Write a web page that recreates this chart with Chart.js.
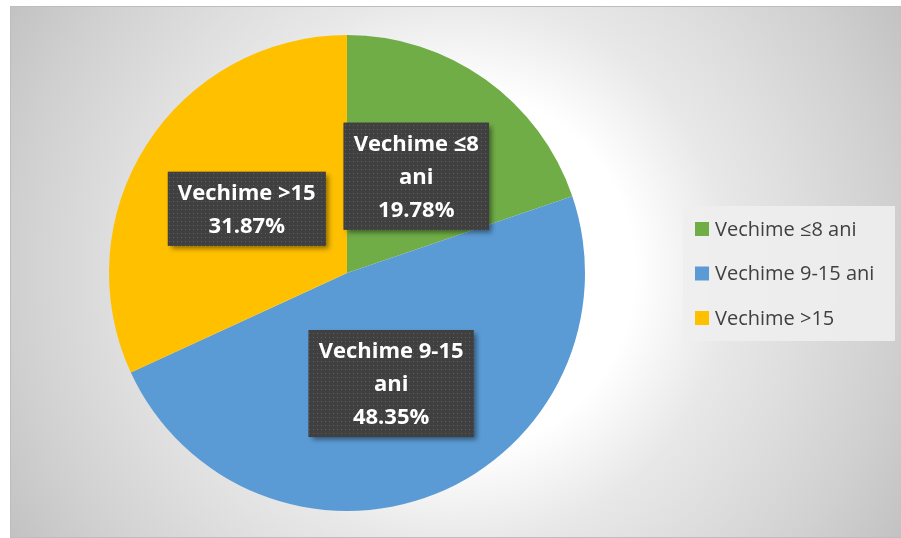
<!DOCTYPE html>
<html>
<head>
<meta charset="utf-8">
<script src="https://cdn.jsdelivr.net/npm/chart.js@4/dist/chart.umd.min.js"></script>
<style>
  body { margin: 0; background: #fff; }
  canvas { display: block; }
</style>
</head>
<body>
<canvas id="pieChart" width="901" height="538"></canvas>
<script>
// categorii si valori (%)
const categories = ['Vechime ≤8 ani', 'Vechime 9-15 ani', 'Vechime >15'];
const values = [19.78, 48.35, 31.87];
const sliceColors = ['#70AD47', '#5B9BD5', '#FFC000'];
// textul etichetelor de pe felii (numele categoriei rupt pe randuri)
const labelLines = [['Vechime ≤8', 'ani'], ['Vechime 9-15', 'ani'], ['Vechime >15']];

const canvas = document.getElementById('pieChart');

// pattern cu puncte pentru fundalul etichetelor
function dotPattern(ctx) {
    const p = document.createElement('canvas');
    p.width = 4;
    p.height = 4;
    const pc = p.getContext('2d');
    pc.fillStyle = '#404040';
    pc.fillRect(0, 0, 4, 4);
    pc.fillStyle = '#5e5e5e';
    pc.fillRect(1, 1, 1, 1);
    return ctx.createPattern(p, 'repeat');
}

// fundalul cu gradient radial si chenarul
const backgroundPlugin = {
    id: 'frameBackground',
    beforeDraw(chart) {
        const ctx = chart.ctx;
        ctx.save();
        ctx.fillStyle = '#ffffff';
        ctx.fillRect(0, 0, chart.width, chart.height);
        const g = ctx.createRadialGradient(455, 271, 0, 455, 271, 520);
        g.addColorStop(0, '#ffffff');
        g.addColorStop(180 / 520, '#ffffff');
        g.addColorStop(273 / 520, '#e8e8e8');
        g.addColorStop(345 / 520, '#dedede');
        g.addColorStop(440 / 520, '#d0d0d0');
        g.addColorStop(1, '#c2c2c2');
        ctx.fillStyle = g;
        ctx.fillRect(10, 6, 891, 531);
        ctx.strokeStyle = '#bdbdbd';
        ctx.lineWidth = 1;
        ctx.strokeRect(10.5, 6.5, 891, 531);
        ctx.restore();
    }
};

// etichetele de date (casete inchise cu text alb)
const dataLabelPlugin = {
    id: 'sliceLabels',
    afterDatasetsDraw(chart) {
        const ctx = chart.ctx;
        const meta = chart.getDatasetMeta(0);
        const data = chart.data.datasets[0].data;
        const total = data.reduce((a, b) => a + b, 0);
        const pattern = dotPattern(ctx);
        ctx.save();
        ctx.font = 'bold 22px "Open Sans"';
        meta.data.forEach((arc, i) => {
            const pos = arc.tooltipPosition();
            const lines = labelLines[i].concat([(data[i] / total * 100).toFixed(2) + '%']);
            let w = 0;
            lines.forEach(l => { w = Math.max(w, ctx.measureText(l).width); });
            const lineH = 33;
            const boxW = w + 20;
            const boxH = lines.length * lineH + 8;
            const x = pos.x - boxW / 2;
            const y = pos.y - boxH / 2;

            ctx.save();
            ctx.shadowColor = 'rgba(0,0,0,0.45)';
            ctx.shadowBlur = 5;
            ctx.shadowOffsetX = 3;
            ctx.shadowOffsetY = 3;
            ctx.fillStyle = '#404040';
            ctx.fillRect(x, y, boxW, boxH);
            ctx.restore();
            ctx.fillStyle = pattern;
            ctx.fillRect(x, y, boxW, boxH);

            ctx.fillStyle = '#ffffff';
            ctx.textAlign = 'center';
            ctx.textBaseline = 'middle';
            lines.forEach((l, k) => {
                ctx.fillText(l, pos.x, y + 4 + lineH * k + lineH / 2 + 1);
            });
        });
        ctx.restore();
    }
};

// legenda din dreapta
const legendPlugin = {
    id: 'sideLegend',
    afterDraw(chart) {
        const ctx = chart.ctx;
        ctx.save();
        ctx.fillStyle = 'rgba(238,238,238,0.9)';
        ctx.fillRect(683, 206, 212, 135);
        ctx.font = '20px "Open Sans"';
        ctx.textBaseline = 'middle';
        ctx.textAlign = 'left';
        chart.data.labels.forEach((lab, i) => {
            const cy = 229 + i * 44.5;
            ctx.fillStyle = chart.data.datasets[0].backgroundColor[i];
            ctx.fillRect(695, cy - 7, 14, 14);
            ctx.fillStyle = '#404040';
            ctx.fillText(lab, 715, cy + 1);
        });
        ctx.restore();
    }
};

new Chart(canvas, {
    type: 'pie',
    data: {
        labels: categories,
        datasets: [{
            data: values,
            backgroundColor: sliceColors,
            borderWidth: 0
        }]
    },
    options: {
        responsive: false,
        animation: false,
        events: [],
        layout: {
            padding: { top: 35, bottom: 27, left: 109, right: 316 }
        },
        plugins: {
            legend: { display: false },
            tooltip: { enabled: false }
        }
    },
    plugins: [backgroundPlugin, dataLabelPlugin, legendPlugin]
});
</script>
</body>
</html>
